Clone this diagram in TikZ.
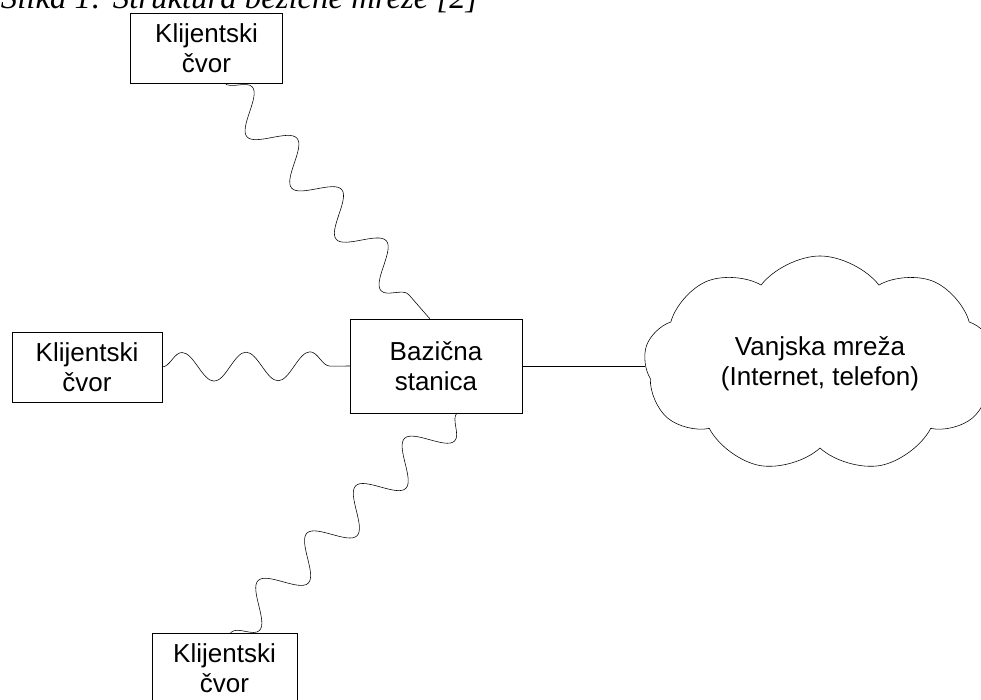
\documentclass[tikz,border=0pt]{standalone}
\usepackage{fontspec}
\setmainfont{Liberation Sans}
\newfontfamily\capfont{Liberation Serif}
\usetikzlibrary{shapes.symbols, decorations.pathmorphing}
\tikzset{
  x=0.025cm, y=-0.025cm,
  line width=0.8pt,
  every node/.style={inner sep=0pt, outer sep=0pt, align=center,
    font=\fontsize{18.5}{21.3}\selectfont},
  client/.style={draw, minimum width=3.8cm, minimum height=1.75cm},
  station/.style={draw, minimum width=4.3cm, minimum height=2.35cm},
  network/.style={cloud, draw, cloud puffs=9, cloud puff arc=105,
    cloud ignores aspect, minimum width=8.8cm, minimum height=5.4cm},
  radio/.style={decorate, decoration={snake, segment length=1.6cm, amplitude=0.36cm}},
  steep radio/.style={radio, decoration={amplitude=0.46cm, segment length=1.7cm}},
}

\begin{document}
\begin{tikzpicture}
      \path[use as bounding box, clip] (0,0) rectangle (981,699);

      \node[anchor=base west, font=\capfont\itshape\fontsize{23.3}{27}\selectfont] (cap) at (1,8)
            {Slika 1: Struktura bežične mreže [2]};

      \node[station] (bs) at (436,366) {Bazična\\stanica};
      \node[client] (kc1) at (206.5,48) {Klijentski\\čvor};
      \node[client, minimum width=3.75cm] (kc2) at (87,367) {Klijentski\\čvor};
      \node[client, minimum width=3.625cm] (kc3) at (224.5,668) {Klijentski\\čvor};
      \node[network] (net) at (820,364) {Vanjska mreža\\(Internet, telefon)};

      \draw[steep radio] ([xshift=0.45cm]kc1.south) -- ([xshift=-0.15cm]bs.north);
      \draw[radio] (kc2.east) -- (bs.west);
      \draw[steep radio] ([xshift=0.525cm]bs.south) -- ([xshift=0.15cm]kc3.north);
      \draw (bs.east) -- (bs.east -| net.west);
    \end{tikzpicture}
\end{document}
